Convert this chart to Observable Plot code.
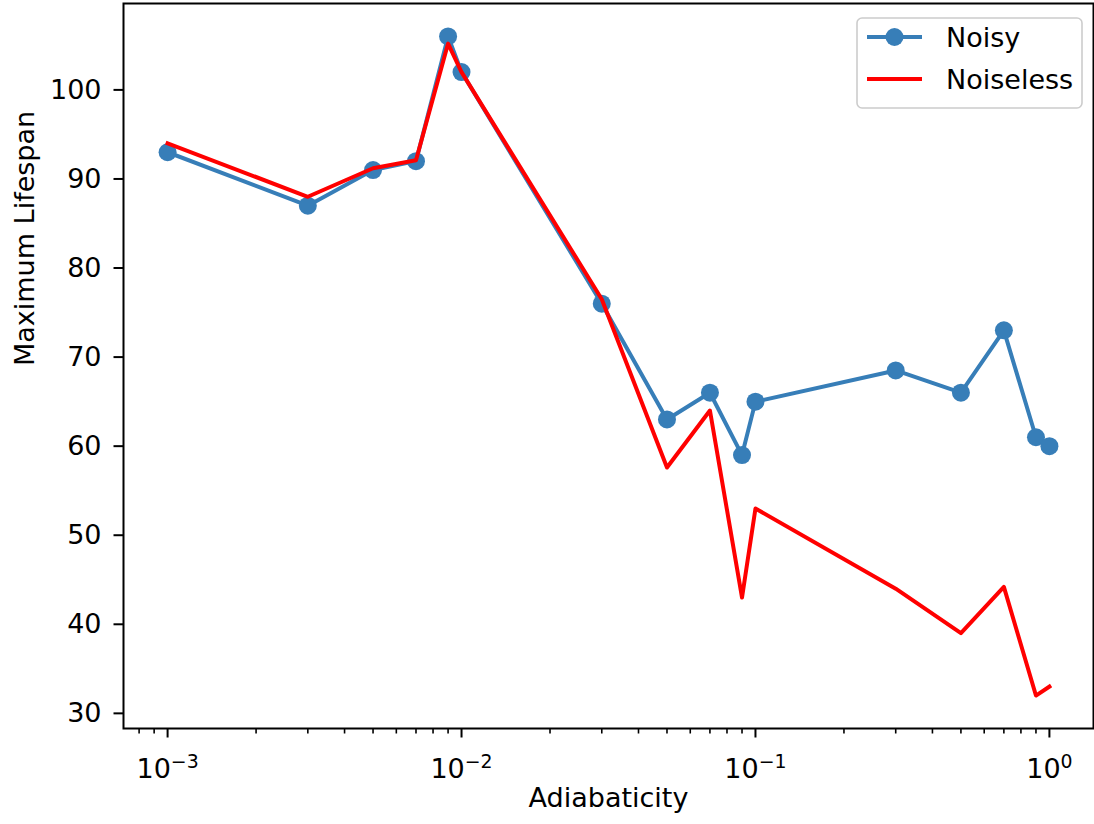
<!DOCTYPE html>
<html>
<head>
<meta charset="utf-8">
<script src="https://cdn.jsdelivr.net/npm/d3@7"></script>
<script src="https://cdn.jsdelivr.net/npm/@observablehq/plot@0.6"></script>
<style>
  html, body { margin: 0; padding: 0; background: #fff; }
  #chart { width: 1094px; height: 824px; }
</style>
</head>
<body>
<div id="chart"></div>
<script>
// Adiabaticity sweep and the maximum lifespan reached at each setting
const adiabaticity = [0.001, 0.003, 0.005, 0.007, 0.009, 0.01, 0.03, 0.05, 0.07, 0.09, 0.1, 0.3, 0.5, 0.7, 0.9, 1.0];
const noisy        = [93, 87, 91, 92, 106, 102, 76, 63, 66, 59, 65, 68.5, 66, 73, 61, 60];
const noiseless    = [94, 88, 91.2, 92.1, 105.2, 102, 76.5, 57.6, 64, 43, 53, 44, 39, 44.2, 32, 33];

const seriesNames  = ["Noisy", "Noiseless"];
const seriesColors = ["#377eb8", "#ff0000"];

const yTicks      = [30, 40, 50, 60, 70, 80, 90, 100];
const xMajorTicks = [0.001, 0.01, 0.1, 1];
const xMinorTicks = [
  0.0008, 0.0009,
  0.002, 0.003, 0.004, 0.005, 0.006, 0.007, 0.008, 0.009,
  0.02, 0.03, 0.04, 0.05, 0.06, 0.07, 0.08, 0.09,
  0.2, 0.3, 0.4, 0.5, 0.6, 0.7, 0.8, 0.9
];
const xLabel = "Adiabaticity";
const yLabel = "Maximum Lifespan";

const rows = adiabaticity.map((a, i) => ({ a, noisy: noisy[i], noiseless: noiseless[i] }));

const FONT = "'DejaVu Sans', sans-serif";
const FS = 27;

const svg = Plot.plot({
  width: 1094,
  height: 824,
  marginLeft: 123,
  marginRight: 1,
  marginTop: 3,
  marginBottom: 96,
  style: { fontFamily: FONT, fontSize: FS + "px", color: "#000", background: "#fff" },
  x: { type: "log", domain: [Math.pow(10, -3.15), Math.pow(10, 0.15)] },
  y: { domain: [28.3, 109.7] },
  marks: [
    // minor log ticks (unlabelled)
    Plot.axisX({ ticks: xMinorTicks, tickSize: 5.5, tickFormat: () => "", strokeWidth: 1.6, label: null }),
    // decade ticks, labelled as powers of ten
    Plot.axisX({
      ticks: xMajorTicks, tickSize: 9.5, tickPadding: 20.5, strokeWidth: 2, label: null,
      tickFormat: d => "10^" + Math.round(Math.log10(d))
    }),
    Plot.axisY({ ticks: yTicks, tickSize: 9.5, tickPadding: 12.5, strokeWidth: 2, label: null }),
    Plot.frame({ stroke: "#000", strokeWidth: 2 }),
    // noisy series: line with round markers
    Plot.line(rows, { x: "a", y: "noisy", stroke: seriesColors[0], strokeWidth: 4, strokeLinejoin: "round", strokeLinecap: "square" }),
    Plot.dot(rows, { x: "a", y: "noisy", r: 9, fill: seriesColors[0], stroke: "none" }),
    // noiseless series: plain line on top
    Plot.line(rows, { x: "a", y: "noiseless", stroke: seriesColors[1], strokeWidth: 4, strokeLinejoin: "round", strokeLinecap: "square" }),
    // axis titles
    Plot.text([xLabel], { text: d => d, frameAnchor: "bottom", dy: 78, fontSize: FS, fill: "#000" }),
    Plot.text([yLabel], { text: d => d, frameAnchor: "left", rotate: -90, dx: -98, fontSize: FS, fill: "#000" })
  ]
});

// Render decade labels as 10 with a raised exponent
d3.select(svg).selectAll('g[aria-label="x-axis tick label"] text').each(function () {
  const s = this.textContent;
  if (!s.startsWith("10^")) return;
  const exp = s.slice(3).replace("-", "\u2212");
  const t = d3.select(this);
  t.text(null);
  t.append("tspan").text("10");
  t.append("tspan").attr("dy", "-0.52em").attr("font-size", "0.7em").text(exp);
});

// Legend box in the upper-right corner of the axes
const leg = d3.select(svg).append("g")
  .attr("font-family", FONT).attr("font-size", FS).attr("text-anchor", "start");
leg.append("rect")
  .attr("x", 857).attr("y", 18).attr("width", 225).attr("height", 90).attr("rx", 5)
  .attr("fill", "#fff").attr("fill-opacity", 0.8)
  .attr("stroke", "#cccccc").attr("stroke-width", 1.6);
const rowY = [37, 79];
seriesNames.forEach((name, i) => {
  leg.append("line")
    .attr("x1", 867).attr("x2", 922).attr("y1", rowY[i]).attr("y2", rowY[i])
    .attr("stroke", seriesColors[i]).attr("stroke-width", 4);
  if (i === 0) {
    leg.append("circle").attr("cx", 894.5).attr("cy", rowY[i]).attr("r", 9).attr("fill", seriesColors[i]);
  }
  leg.append("text").attr("x", 946).attr("y", rowY[i] + 10).attr("fill", "#000").text(name);
});

document.getElementById("chart").appendChild(svg);
</script>
</body>
</html>
